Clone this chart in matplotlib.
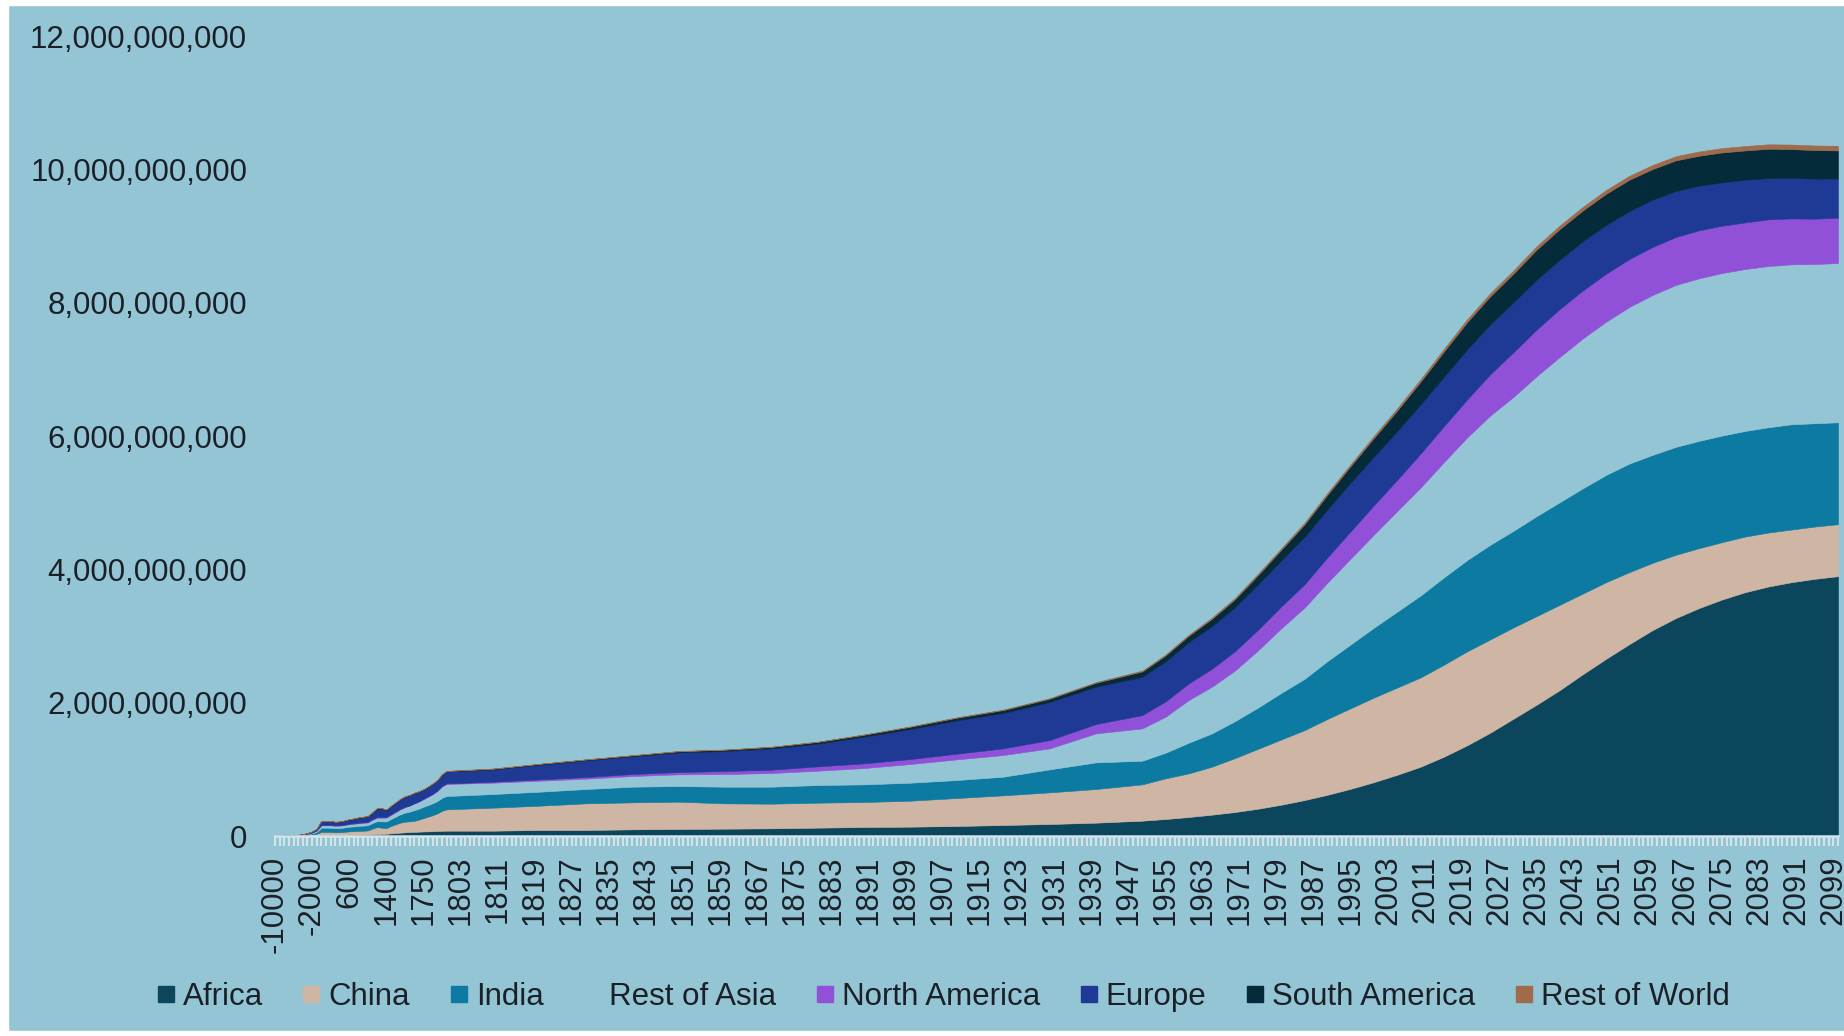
import matplotlib
matplotlib.use("Agg")
import matplotlib.pyplot as plt
import numpy as np
from matplotlib.lines import Line2D
from matplotlib.patches import Rectangle
from matplotlib.ticker import FuncFormatter

plt.rcParams['font.family'] = ['Liberation Sans', 'DejaVu Sans']

# category axis: sparse early estimates, then one slot per year 1800-2100
categories = (list(range(-10000, 0, 1000)) + [1] + list(range(100, 1401, 100))
              + [1450, 1500, 1550, 1600, 1650, 1700, 1725, 1750,
                 1760, 1770, 1780, 1790] + list(range(1800, 2101)))

# years that carry an estimate (millions of people per region)
years = ([-10000, -9000, -8000, -7000, -6000, -5000, -4000, -3000, -2000, -1000,
          1, 100, 200, 300, 400, 500, 600, 700, 800, 900, 1000, 1100, 1200, 1300, 1400,
          1450, 1500, 1550, 1600, 1650, 1700, 1725, 1750, 1760, 1770, 1780, 1790]
         + [1800, 1810, 1820, 1830, 1840, 1850, 1860, 1870, 1880, 1890, 1900,
            1910, 1920, 1930, 1940, 1950]
         + [1955, 1960, 1965, 1970, 1975, 1980, 1985, 1990, 1995, 2000,
            2005, 2010, 2015, 2020, 2025, 2030, 2035, 2040, 2045, 2050,
            2055, 2060, 2065, 2070, 2075, 2080, 2085, 2090, 2095, 2100])

africa = ([0.5, 0.6, 0.8, 1.0, 1.5, 2, 3, 5, 7, 10, 15,
           15, 16, 16, 17, 18, 19, 20, 21, 22, 23, 25, 28, 30, 33,
           40, 45, 50, 55, 60, 62, 65, 68, 70, 72, 75, 78]
          + [80, 80, 90, 90, 100, 105, 110, 115, 125, 135, 140, 150, 165, 180, 200, 230]
          + [255, 285, 320, 360, 410, 470, 540, 620, 710, 810, 920, 1040, 1190, 1360, 1550,
             1760, 1970, 2190, 2430, 2660, 2880, 3090, 3270, 3420, 3550, 3660, 3745, 3810,
             3860, 3900])
china = ([0.8, 1.0, 1.3, 1.7, 2.5, 4, 6, 10, 16, 25, 45,
          45, 45, 40, 40, 45, 50, 52, 55, 57, 60, 85, 105, 95, 85,
          110, 130, 150, 160, 160, 165, 180, 200, 220, 240, 265, 300]
         + [320, 345, 365, 400, 405, 410, 380, 370, 375, 375, 390, 420, 445, 475, 505, 545]
         + [610, 655, 720, 810, 900, 980, 1050, 1140, 1210, 1270, 1310, 1340, 1380, 1410,
            1400, 1370, 1330, 1280, 1210, 1150, 1080, 1010, 950, 900, 860, 835, 810, 790,
            785, 780])
india = ([0.8, 1.0, 1.2, 1.6, 2.5, 4, 6, 10, 16, 28, 65,
          65, 63, 62, 63, 65, 70, 72, 75, 77, 78, 85, 90, 95, 100,
          105, 115, 125, 135, 145, 160, 165, 170, 175, 180, 185, 195]
         + [200, 205, 210, 215, 235, 235, 250, 255, 265, 265, 270, 270, 280, 345, 400, 355]
         + [385, 460, 500, 555, 620, 700, 770, 870, 960, 1050, 1140, 1230, 1310, 1370, 1420,
            1450, 1500, 1540, 1580, 1610, 1630, 1620, 1620, 1610, 1600, 1585, 1580, 1580,
            1550, 1530])
rest_asia = ([0.8, 1.0, 1.2, 1.5, 2.2, 3, 5, 8, 12, 20, 35,
              35, 35, 34, 35, 36, 38, 39, 40, 41, 42, 48, 52, 55, 58,
              62, 68, 75, 82, 90, 100, 105, 115, 125, 135, 150, 170]
             + [180, 170, 165, 155, 160, 175, 190, 205, 215, 245, 280, 310, 325, 315, 435, 485]
             + [540, 640, 700, 760, 860, 970, 1070, 1180, 1290, 1400, 1510, 1620, 1730, 1840,
                1940, 2010, 2100, 2180, 2250, 2300, 2350, 2400, 2430, 2440, 2440, 2430, 2420,
                2400, 2390, 2390])
north_america = ([0.2, 0.3, 0.3, 0.4, 0.5, 0.8, 1, 1.5, 2, 3, 8,
                  8, 8, 8, 8, 8, 8, 8, 9, 9, 9, 10, 10, 10, 10,
                  10, 10, 8, 6, 5, 5, 5, 6, 6, 7, 8, 9]
                 + [10, 15, 20, 25, 30, 35, 45, 50, 65, 70, 75, 85, 100, 125, 140, 200]
                 + [230, 250, 270, 290, 310, 330, 350, 380, 410, 440, 470, 510, 540, 570, 620,
                    670, 700, 720, 720, 720, 720, 720, 720, 720, 710, 700, 700, 690, 680, 680])
europe = ([0.6, 0.8, 1.0, 1.4, 2, 3, 5, 8, 13, 22, 55,
           55, 55, 48, 50, 54, 60, 64, 70, 74, 78, 95, 120, 120, 98,
           115, 125, 140, 150, 150, 150, 145, 135, 140, 145, 150, 165]
          + [175, 185, 220, 250, 265, 295, 300, 320, 340, 400, 450, 500, 530, 570, 560, 575]
          + [600, 620, 640, 660, 680, 690, 710, 720, 730, 730, 730, 740, 740, 750, 750,
             750, 750, 740, 740, 730, 720, 710, 690, 670, 650, 640, 620, 610, 600, 590])
south_america = ([0.2, 0.2, 0.2, 0.3, 0.4, 0.6, 1, 1.5, 2, 3, 5,
                  5, 5, 5, 6, 7, 8, 8, 9, 9, 9, 10, 12, 12, 12,
                  12, 12, 8, 7, 6, 6, 6, 7, 7, 8, 8, 9]
                 + [10, 10, 12, 13, 15, 17, 20, 22, 27, 30, 35, 40, 45, 50, 60, 80]
                 + [90, 95, 110, 120, 140, 160, 190, 220, 250, 280, 310, 340, 380, 410, 420,
                    430, 450, 460, 460, 470, 470, 460, 460, 450, 450, 440, 440, 430, 430, 420])
rest_world = ([0.1, 0.1, 0.1, 0.1, 0.1, 0.2, 0.2, 0.3, 0.4, 0.5, 1,
               1, 1, 1, 1, 1, 1, 1, 1, 1, 1, 1, 2, 2, 2,
               2, 2, 2, 2, 2, 2, 2, 2, 2, 3, 3, 3]
              + [3, 3, 3, 3, 4, 4, 4, 4, 5, 5, 6, 7, 8, 9, 10, 13]
              + [14, 16, 18, 20, 22, 23, 25, 27, 29, 31, 34, 37, 40, 43, 46,
                 48, 51, 53, 55, 57, 59, 61, 63, 64, 65, 66, 67, 68, 69, 70])

names = ["Africa", "China", "India", "Rest of Asia", "North America",
         "Europe", "South America", "Rest of World"]
series = [africa, china, india, rest_asia, north_america, europe, south_america, rest_world]

bg = "#94c5d5"
colors = ["#0b465c", "#cfb5a3", "#0d7ba1", bg, "#9150d8", "#1e3a94", "#052a3a", "#9e6b4c"]
text_col = "#1b2028"
axis_col = "#d3e4eb"

W, H = 1844, 1036
fig = plt.figure(figsize=(W / 100, H / 100), dpi=100, facecolor=bg)
# white margins around the chart area
fig.patches.append(Rectangle((0, 0), 8 / W, 1, transform=fig.transFigure, color="white", zorder=0))
fig.patches.append(Rectangle((0, 1 - 5 / H), 1, 5 / H, transform=fig.transFigure, color="white", zorder=0))
fig.patches.append(Rectangle((0, 0), 1, 5 / H, transform=fig.transFigure, color="white", zorder=0))

ax = fig.add_axes([275 / W, 1 - 836 / H, (1838 - 275) / W, (836 - 36.5) / H])
ax.set_facecolor(bg)

x = [categories.index(y) for y in years]
vals = [np.array(s, dtype=float) * 1e6 for s in series]
ax.stackplot(x, *vals, colors=colors, edgecolor="face", linewidth=0.4)

ax.set_xlim(0, len(categories) - 1)
ax.set_ylim(0, 12e9)

ax.set_yticks(np.arange(0, 12e9 + 1, 2e9))
ax.yaxis.set_major_formatter(FuncFormatter(lambda v, p: f"{v:,.0f}"))
ax.tick_params(axis="y", length=0, pad=20, labelsize=22.5, labelcolor=text_col)

ax.set_xticks(range(len(categories)), minor=True)
ax.set_xticks(range(0, len(categories), 8))
ax.set_xticklabels([str(categories[i]) for i in range(0, len(categories), 8)], rotation=90)
ax.tick_params(axis="x", which="both", direction="out", length=7, width=1.5,
               color=axis_col, pad=7, labelsize=22.5, labelcolor=text_col)

for side in ["left", "right", "top"]:
    ax.spines[side].set_visible(False)
ax.spines["bottom"].set_color(axis_col)
ax.spines["bottom"].set_linewidth(1.8)

handles = [Line2D([], [], marker="s", linestyle="none", markersize=12,
                  markerfacecolor=c, markeredgecolor=c) for c in colors]
fig.legend(handles, names, loc="center", bbox_to_anchor=(943 / W, 1 - 997 / H),
           ncol=8, frameon=False, fontsize=22.5, handlelength=0.6, handletextpad=0.25,
           columnspacing=1.25, labelcolor=text_col)

fig.savefig("out.png", dpi=100, facecolor=fig.get_facecolor())
